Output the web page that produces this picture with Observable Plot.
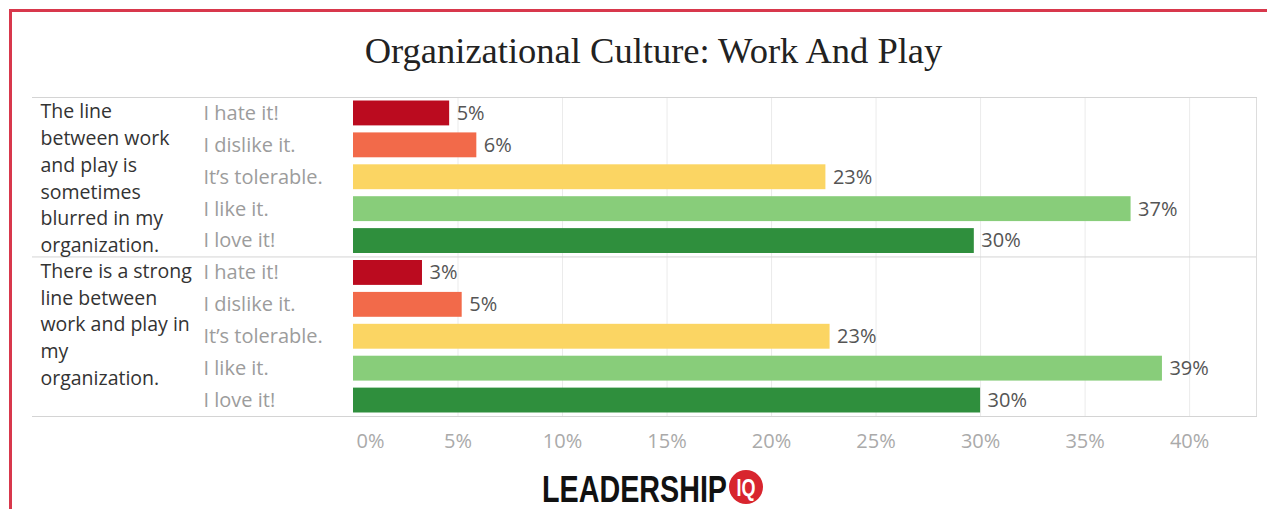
<!DOCTYPE html>
<html>
<head>
<meta charset="utf-8">
<script src="https://cdn.jsdelivr.net/npm/d3@7"></script>
<script src="https://cdn.jsdelivr.net/npm/@observablehq/plot@0.6"></script>
<style>
  html, body { margin: 0; padding: 0; background: #fff; overflow: hidden; }
  body { width: 1267px; height: 509px; position: relative; }
  #border { position: absolute; left: 9px; top: 9px; width: 1400px; height: 700px;
            border-left: 3px solid #d8384c; border-top: 3px solid #d8384c; }
  #title { position: absolute; left: 20px; top: 31px; width: 1267px; text-align: center;
           font-family: "Liberation Serif", serif; font-size: 36.5px; color: #222; line-height: 40px; }
  #chart { position: absolute; left: 0; top: 0; }
  #logo { position: absolute; left: 530px; top: 460px; }
</style>
</head>
<body>
<div id="border"></div>
<div id="title">Organizational Culture: Work And Play</div>
<div id="chart"></div>
<svg id="logo" width="260" height="49">
  <text transform="translate(12,42) scale(1,1.35)" font-family="'Liberation Sans', sans-serif" font-weight="700"
        font-size="28" fill="#111" textLength="185" lengthAdjust="spacingAndGlyphs">LEADERSHIP</text>
  <circle cx="216" cy="27" r="17" fill="#d8252e"></circle>
  <text transform="translate(216,36) scale(1,1.35)" text-anchor="middle" font-family="'Liberation Sans', sans-serif"
        font-weight="700" font-size="18" fill="#fff">IQ</text>
</svg>
<script>
const questions = [
  "The line\nbetween work\nand play is\nsometimes\nblurred in my\norganization.",
  "There is a strong\nline between\nwork and play in\nmy\norganization."
];
const responses = ["I hate it!", "I dislike it.", "It’s tolerable.", "I like it.", "I love it!"];
const blurredValues = [4.6, 5.9, 22.6, 37.2, 29.7];
const strongValues = [3.3, 5.2, 22.8, 38.7, 30.0];
const responseColors = ["#bb0b1f", "#f26a4a", "#fbd563", "#88cd7a", "#2f8f3d"];
const xTicks = [0, 5, 10, 15, 20, 25, 30, 35, 40];

const seriesValues = [blurredValues, strongValues];
const rows = questions.flatMap((q, qi) =>
  responses.map((r, ri) => ({ question: q, response: r, key: qi + "|" + r, value: seriesValues[qi][ri] }))
);
const keys = rows.map(d => d.key);
const groups = questions.map((q, qi) => ({ question: q, key: qi + "|" + responses[0] }));

const chart = Plot.plot({
  width: 1267,
  height: 509,
  marginLeft: 32,
  marginRight: 11,
  marginTop: 97,
  marginBottom: 93,
  style: { fontFamily: "'Open Sans', sans-serif", background: "transparent" },
  x: { domain: [0, 43.2], range: [353, 1256], axis: null },
  y: { domain: keys, axis: null, paddingInner: 0.22, paddingOuter: 0.11, round: false },
  color: { domain: responses, range: responseColors },
  marks: [
    Plot.ruleX(xTicks.slice(1), { x: d => d, stroke: "#ebebeb", strokeWidth: 1 }),
    Plot.frame({ anchor: "right", stroke: "#dddddd" }),
    Plot.frame({ anchor: "top", stroke: "#d4d4d4" }),
    Plot.frame({ anchor: "bottom", stroke: "#d4d4d4" }),
    Plot.ruleY([groups[1].key], { y: d => d, dy: -16, stroke: "#d4d4d4" }),
    Plot.barX(rows, { x: "value", y: "key", fill: "response" }),
    Plot.text(rows, { x: "value", y: "key", text: d => Math.round(d.value) + "%", textAnchor: "start",
                      dx: 7, fill: "#555", fontSize: 20 }),
    Plot.text(rows, { y: "key", text: "response", frameAnchor: "left", dx: 171, textAnchor: "start",
                      fill: "#9c9c9c", fontSize: 20 }),
    Plot.text(groups, { y: "key", text: "question", frameAnchor: "left", dx: 8, textAnchor: "start",
                        lineAnchor: "top", dy: -14, lineHeight: 1.37, fill: "#333", fontSize: 19.5 }),
    Plot.text(xTicks.slice(0, 1), { x: d => d, text: d => d + "%", frameAnchor: "bottom", dy: 31,
                                    textAnchor: "start", dx: 3, fill: "#aaa", fontSize: 20 }),
    Plot.text(xTicks.slice(1), { x: d => d, text: d => d + "%", frameAnchor: "bottom", dy: 31,
                                 fill: "#aaa", fontSize: 20 })
  ]
});
document.getElementById("chart").appendChild(chart);
</script>
</body>
</html>
